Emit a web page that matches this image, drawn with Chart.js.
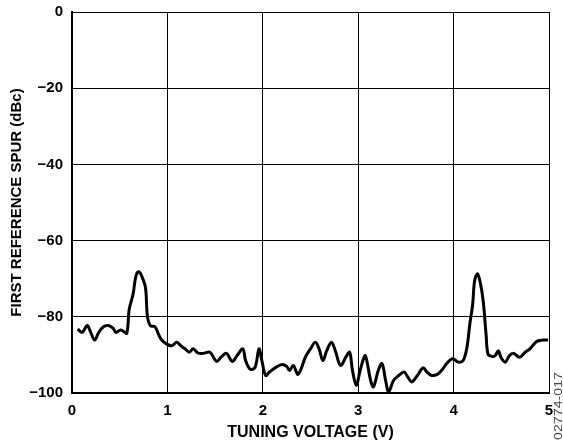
<!DOCTYPE html>
<html>
<head>
<meta charset="utf-8">
<script src="https://cdn.jsdelivr.net/npm/chart.js@4/dist/chart.umd.min.js"></script>
<style>
  html, body { margin: 0; padding: 0; background: #fff; }
  #wrap { width: 563px; height: 446px; position: relative; }
</style>
</head>
<body>
<div id="wrap"><canvas id="chart"></canvas></div>
<script>
// ! DATA
const voltage = [
  0.06, 0.105, 0.16, 0.19, 0.237, 0.28, 0.33, 0.38, 0.43, 0.46, 0.505, 0.54, 0.575,
  0.6, 0.64, 0.67, 0.7, 0.73, 0.77, 0.79, 0.82, 0.87, 0.905, 0.94, 0.99,
  1.045, 1.098, 1.14, 1.185, 1.23, 1.27, 1.32, 1.376, 1.446, 1.516, 1.57, 1.62,
  1.68, 1.73, 1.79, 1.82, 1.87, 1.92, 1.96, 1.99, 2.03, 2.07, 2.14, 2.205, 2.25,
  2.28, 2.32, 2.37, 2.45, 2.5, 2.55, 2.59, 2.63, 2.67, 2.72, 2.76, 2.815, 2.87,
  2.91, 2.94, 2.98, 3.02, 3.07, 3.09, 3.13, 3.16, 3.21, 3.25, 3.29, 3.32, 3.37,
  3.425, 3.48, 3.52, 3.56, 3.62, 3.68, 3.72, 3.77, 3.83, 3.88, 3.93, 3.99, 4.05,
  4.1, 4.14, 4.17, 4.2, 4.22, 4.25, 4.28, 4.31, 4.34, 4.36, 4.4, 4.435, 4.47,
  4.495, 4.54, 4.585, 4.63, 4.69, 4.75, 4.8, 4.87, 4.94, 4.99
];
const spur = [
  -83.2, -84.1, -82.3, -83.7, -86.1, -84.1, -82.6, -82.3, -83.0, -84.1, -83.5, -83.8, -84.3,
  -78.0, -74.1, -69.3, -68.2, -69.3, -72.3, -79.7, -82.3, -82.6, -84.5, -86.1, -87.1,
  -87.6, -86.7, -87.6, -88.4, -89.3, -88.4, -89.5, -89.6, -89.3, -91.7, -90.4, -89.6,
  -91.7, -90.2, -88.4, -91.5, -93.8, -93.2, -88.4, -91.5, -95.4, -94.5, -93.2, -92.5, -93.0,
  -94.1, -92.8, -95.1, -90.4, -88.4, -86.7, -88.4, -91.5, -88.9, -86.7, -88.9, -92.8, -90.6,
  -89.3, -94.1, -98.0, -94.1, -90.2, -91.5, -96.7, -98.4, -94.1, -92.3, -97.1, -99.7, -96.7,
  -95.4, -94.5, -95.8, -97.1, -95.4, -93.4, -94.5, -95.4, -95.1, -93.9, -92.2, -91.0, -91.9,
  -91.5, -88.0, -81.9, -76.7, -70.6, -68.7, -71.1, -75.8, -84.5, -89.7, -90.4, -90.2, -88.9,
  -90.6, -91.9, -90.2, -89.6, -90.6, -89.3, -88.4, -86.5, -86.1, -86.1
];

const xTicks = [0, 1, 2, 3, 4, 5];
const yTicks = [0, -20, -40, -60, -80, -100];
const xTitle = "TUNING VOLTAGE (V)";
const yTitle = "FIRST REFERENCE SPUR (dBc)";
const figCode = "02774-017";

const FONT = "'Liberation Sans', Arial, Helvetica, sans-serif";

// ! FIGURE CODE ON THE RIGHT EDGE
const figCodePlugin = {
  id: "figCode",
  afterDraw(chart) {
    const ctx = chart.ctx;
    ctx.save();
    ctx.translate(559, 406);
    ctx.rotate(-Math.PI / 2);
    ctx.font = "11px " + FONT;
    const w = ctx.measureText(figCode).width;
    ctx.scale(68 / w, 1);
    ctx.fillStyle = "#444";
    ctx.textAlign = "center";
    ctx.textBaseline = "middle";
    ctx.fillText(figCode, 0, 0);
    ctx.restore();
  },
};

const minus = (v) => String(v).replace("-", "\u2212");

const ctx = document.querySelector("#chart").getContext("2d");
new Chart(ctx, {
  type: "scatter",
  data: {
    datasets: [
      {
        data: voltage.map((v, i) => ({ x: v, y: spur[i] })),
        showLine: true,
        borderColor: "#000",
        borderWidth: 3,
        pointRadius: 0,
        tension: 0.35,
        fill: false,
      },
    ],
  },
  options: {
    responsive: true,
    maintainAspectRatio: false,
    animation: false,
    layout: { padding: { left: 0, right: 14, top: 0, bottom: 0 } },
    plugins: { legend: { display: false }, tooltip: { enabled: false } },
    scales: {
      x: {
        type: "linear",
        min: 0,
        max: 5,
        afterBuildTicks: (s) => { s.ticks = xTicks.map((v) => ({ value: v })); },
        afterFit: (s) => { s.height = 53; },
        grid: { color: "#000", lineWidth: 1, drawTicks: false },
        border: { color: "#000", width: 2 },
        ticks: {
          color: "#000",
          padding: 9,
          maxRotation: 0,
          font: { family: FONT, size: 15, weight: "bold" },
        },
        title: {
          display: true,
          text: xTitle,
          color: "#000",
          padding: { top: 0, bottom: 4 },
          font: { family: FONT, size: 16, weight: "bold" },
        },
      },
      y: {
        type: "linear",
        min: -100,
        max: 0,
        afterBuildTicks: (s) => { s.ticks = yTicks.map((v) => ({ value: v })); },
        afterFit: (s) => { s.width = 72; s.paddingTop = 12; },
        grid: { color: "#000", lineWidth: 1, drawTicks: false },
        border: { color: "#000", width: 2 },
        ticks: {
          color: "#000",
          padding: 9,
          callback: (v) => minus(v),
          font: { family: FONT, size: 15, weight: "bold" },
        },
        title: {
          display: true,
          text: yTitle,
          color: "#000",
          padding: { top: 8, bottom: 0 },
          font: { family: FONT, size: 15, weight: "bold" },
        },
      },
    },
  },
  plugins: [figCodePlugin],
});
</script>
</body>
</html>
